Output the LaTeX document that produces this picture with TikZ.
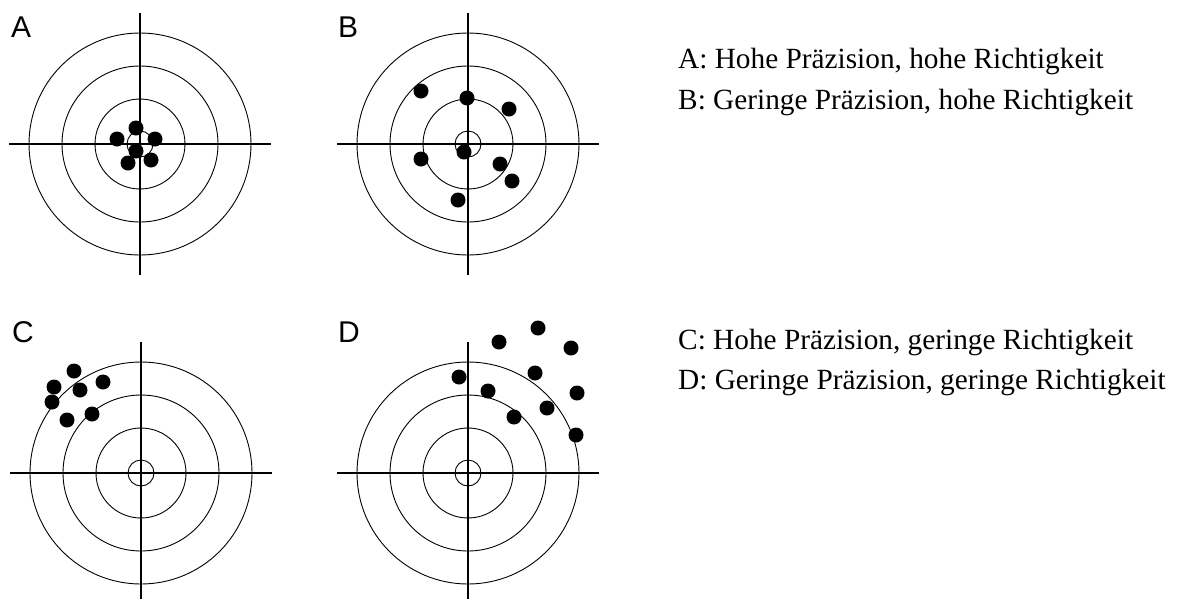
\documentclass[tikz,border=0pt]{standalone}
\usepackage{fontspec}
\setmainfont{Liberation Serif}
\setsansfont{Liberation Sans}
\tikzset{
  ring/.style={draw=black,line width=0.9pt},
  axis/.style={draw=black,line width=1.1pt},
  hit/.style={fill=black},
  tag/.style={font=\fontsize{30}{30}\selectfont\sffamily,anchor=base west,inner sep=0pt},
  legend/.style={font=\fontsize{29.3}{30}\selectfont\rmfamily,anchor=base west,inner sep=0pt},
}
% one target: rings and crosshair around a centre
\newcommand{\drawtarget}[1]{%
  \foreach \r in {13,45,78,111} \draw[ring] (#1) circle[radius=\r];
  \draw[axis] ($(#1)+(-131,0)$) -- ($(#1)+(131,0)$);
  \draw[axis] ($(#1)+(0,-131)$) -- ($(#1)+(0,131)$);
}
\usetikzlibrary{calc}
\begin{document}
\begin{tikzpicture}[x=1pt,y=-1pt]
\useasboundingbox (0,0) rectangle (1178,598);
\coordinate (ca) at (140,144);
\coordinate (cb) at (468,144);
\coordinate (cc) at (141,473);
\coordinate (cd) at (468,473);
\drawtarget{ca}
\drawtarget{cb}
\drawtarget{cc}
\drawtarget{cd}
% hits
\foreach \x/\y in {136/128,117/139,155/139,136/151,128/163,151/160}
  \fill[hit] (\x,\y) circle[radius=7.5];
\foreach \x/\y in {421/91,467/98,509/109,464/152,421/159,500/164,512/181,458/200}
  \fill[hit] (\x,\y) circle[radius=7.5];
\foreach \x/\y in {74/371,54/387,80/390,103/382,52/402,92/414,67/420}
  \fill[hit] (\x,\y) circle[radius=7.5];
\foreach \x/\y in {499/342,538/328,571/348,459/377,535/373,488/391,577/393,547/408,514/417,576/435}
  \fill[hit] (\x,\y) circle[radius=7.5];
% letters
\node[tag] (la) at (11,37) {A};
\node[tag] (lb) at (338,37) {B};
\node[tag] (lc) at (12,342) {C};
\node[tag] (ld) at (338,342) {D};
% legend
\node[legend] (ta) at (678,68) {A: Hohe Präzision, hohe Richtigkeit};
\node[legend] (tb) at (678,109) {B: Geringe Präzision, hohe Richtigkeit};
\node[legend] (tc) at (678,349) {C: Hohe Präzision, geringe Richtigkeit};
\node[legend] (td) at (678,389) {D: Geringe Präzision, geringe Richtigkeit};
\end{tikzpicture}
\end{document}
